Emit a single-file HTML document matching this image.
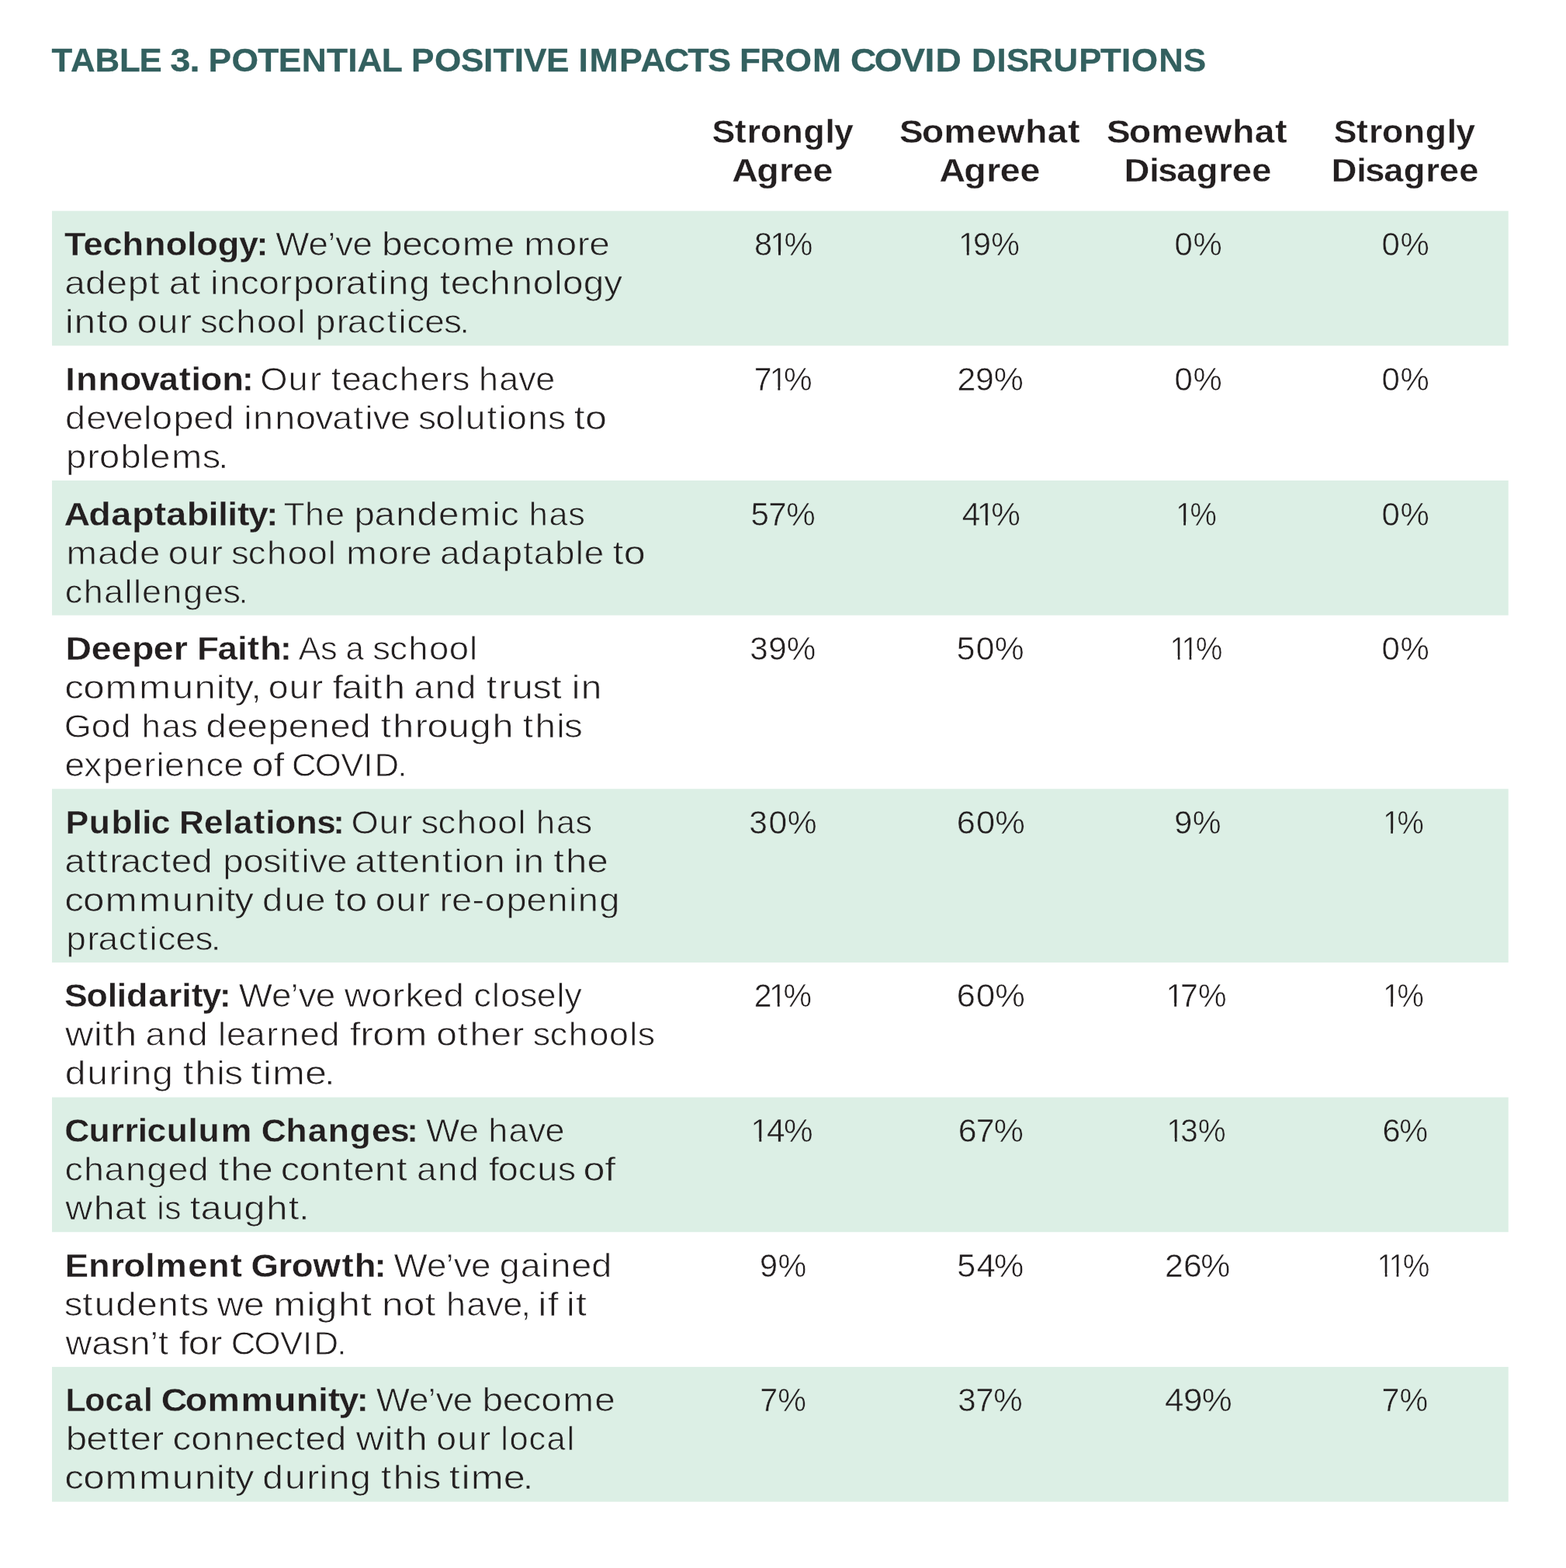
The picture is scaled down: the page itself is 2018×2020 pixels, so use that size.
<!DOCTYPE html>
<html lang="en">
<head>
<meta charset="utf-8">
<title>Table 3. Potential Positive Impacts from COVID Disruptions</title>
<style>
html,body{margin:0;padding:0;background:#fff}
svg{display:block}
text{font-family:"Liberation Sans",sans-serif;font-size:42px;fill:#231f20;font-kerning:none;font-variant-ligatures:none}
.band{fill:#dcefe5}
.ti{font-weight:700;fill:#33605f;stroke:#33605f;stroke-width:0.27px;}
.h{font-weight:700;stroke:#fff;stroke-width:0.3px;}
.b{font-weight:700;stroke:#fff;stroke-width:0.3px;}
.r{stroke:#fff;stroke-width:0.75px;}
.n{stroke:#fff;stroke-width:0.52px;}
.g .b{stroke:#dcefe5;stroke-width:0.3px;}
.g .r{stroke:#dcefe5;stroke-width:0.75px;}
.g .n{stroke:#dcefe5;stroke-width:0.52px;}
</style>
</head>
<body>
<svg width="2018" height="2020" viewBox="0 0 2018 2020">
<rect width="2018" height="2020" fill="#fff"/>
<rect class="band" x="67" y="271.7" width="1876.75" height="173.65"/>
<rect class="band" x="67" y="619" width="1876.75" height="173.65"/>
<rect class="band" x="67" y="1016.3" width="1876.75" height="223.65"/>
<rect class="band" x="67" y="1413.6" width="1876.75" height="173.65"/>
<rect class="band" x="67" y="1760.9" width="1876.75" height="173.75"/>
<g class="title">
<text class="ti" transform="translate(66.58 92.07) scale(1.0421 1)" x="0 23.32 53.55 83.88 108.41">TABLE</text> <text class="ti" transform="translate(219.21 92.07) scale(1.12 1)" x="0 22.52">3.</text> <text class="ti" transform="translate(268.48 92.07) scale(1.0569 1)" x="0 28.4 60.29 85.45 113.76 144.26 170.06 181.61 211.32">POTENTIAL</text> <text class="ti" transform="translate(530.06 92.07) scale(1.0535 1)" x="0 28.46 60.62 88.19 100.01 125.85 137.59 165.04">POSITIVE</text> <text class="ti" transform="translate(745.55 92.07) scale(1.0631 1)" x="0 13.07 49.4 75.15 103.81 132.38 156.7">IMPACTS</text> <text class="ti" transform="translate(953 92.07) scale(1.0574 1)" x="0 25.04 55.34 88.99">FROM</text> <text class="ti" transform="translate(1096.08 92.07) scale(1.1017 1)" x="0 27.86 59.11 86.68 99.29">COVID</text> <text class="ti" transform="translate(1251.89 92.07) scale(1.0432 1)" x="0 31.38 43.15 70.27 101.16 132.71 159.2 185.14 197.67 231.31 261.83">DISRUPTIONS</text>
</g>
<g class="thead">
<text class="h" transform="translate(917.6 183.9) scale(1.0619 1)" x="0 27.45 42.59 58.66 84.69 111.01 137.48 148.35">Strongly</text> <text class="h" transform="translate(943.33 233.9) scale(1.1085 1)" x="0 28.74 54.75 70.68 93.92">Agree</text>
<text class="h" transform="translate(1159.11 183.9) scale(1.097 1)" x="0 26.29 52.4 90.52 114.3 147.78 173.83 197.84">Somewhat</text> <text class="h" transform="translate(1210.51 233.9) scale(1.1085 1)" x="0 28.74 54.75 70.68 93.92">Agree</text>
<text class="h" transform="translate(1426.11 183.9) scale(1.097 1)" x="0 26.29 52.4 90.52 114.3 147.78 173.83 197.84">Somewhat</text> <text class="h" transform="translate(1448.8 233.9) scale(1.0775 1)" x="0 30.13 40.23 62.57 86.38 112.81 129.02 152.65">Disagree</text>
<text class="h" transform="translate(1718.79 183.9) scale(1.0619 1)" x="0 27.45 42.59 58.66 84.69 111.01 137.48 148.35">Strongly</text> <text class="h" transform="translate(1715.8 233.9) scale(1.0775 1)" x="0 30.13 40.23 62.57 86.38 112.81 129.02 152.65">Disagree</text>
</g>
<g class="row g">
<text class="b" transform="translate(82.9 329.41) scale(1.0731 1)" x="0 22.87 46.23 69.43 96.03 121.92 147.38 158.8 184.26 209.73 230.66">Technology:</text> <text class="r" transform="translate(355.3 329.41) scale(1.0896 1)" x="0 38.82 61.41 70.71 90.97">We’ve</text> <text class="r" transform="translate(491.89 329.41) scale(1.1396 1)" x="0 23.08 45.76 66.48 91.12 127.01">become</text> <text class="r" transform="translate(675.3 329.41) scale(1.1425 1)" x="0 36.05 59.88 73.5">more</text>
<text class="r" transform="translate(83.19 379.41) scale(1.1388 1)" x="0 23.48 47.61 71.66 95.73">adept</text> <text class="r" transform="translate(217.7 379.41) scale(1.1287 1)" x="0 24.1">at</text> <text class="r" transform="translate(271.06 379.41) scale(1.129 1)" x="0 10.5 34.42 55.3 79.31 94.72 118.15 142.16 154.81 178.92 192.35 202.86 227.19">incorporating</text> <text class="r" transform="translate(567.01 379.41) scale(1.1372 1)" x="0 12.11 34.85 56.53 81.44 105.38 129.19 138.99 162.4 185.77">technology</text>
<text class="r" transform="translate(83.79 429.41) scale(1.1847 1)" x="0 9.94 34.14 46.04">into</text> <text class="r" transform="translate(176.67 429.41) scale(1.1063 1)" x="0 24.32 49.54">our</text> <text class="r" transform="translate(258.02 429.41) scale(1.0822 1)" x="0 20.38 42.76 67.48 91.29 115.67">school</text> <text class="r" transform="translate(406.73 429.41) scale(1.0963 1)" x="0 24.61 37.52 61.2 83.66 97.36 107.11 128.14 150.72 169.17">practices.</text>
<text class="n" transform="translate(971.88 329.41) scale(0.9889 1)" x="0 20.6 39.17">81%</text><rect x="994.42" y="324.16" width="8.64" height="6.14" fill="#dcefe5"/><rect x="1005.99" y="324.16" width="8.32" height="6.14" fill="#dcefe5"/>
<text class="n" transform="translate(1235.07 329.41) scale(0.9834 1)" x="0 19.14 43">19%</text><rect x="1237.23" y="324.16" width="8.6" height="6.14" fill="#dcefe5"/><rect x="1248.73" y="324.16" width="8.18" height="6.14" fill="#dcefe5"/>
<text class="n" transform="translate(1513.45 329.41) scale(0.999 1)" x="0 24.07">0%</text>
<text class="n" transform="translate(1780.45 329.41) scale(0.999 1)" x="0 24.07">0%</text>
</g>
<g class="row">
<text class="b" transform="translate(84.31 503.01) scale(1.0787 1)" x="0 12.69 39.15 64.98 89.36 111.63 135.87 150.37 161.39 187.19 210.86">Innovation:</text> <text class="r" transform="translate(335.18 503.01) scale(1.0814 1)" x="0 33.62 59.12">Our</text> <text class="r" transform="translate(426.78 503.01) scale(1.0853 1)" x="0 12.54 35.09 58.87 81.16 105.57 129.75 143.72">teachers</text> <text class="r" transform="translate(617 503.01) scale(1.0708 1)" x="0 24.49 47.92 68.37">have</text>
<text class="r" transform="translate(83.93 553.01) scale(1.1148 1)" x="0 24.41 46.88 66.88 90.58 100.56 125.19 148.57 171.86">developed</text> <text class="r" transform="translate(314.29 553.01) scale(1.1133 1)" x="0 10.63 35.82 60.03 82.61 102.37 126.58 140.1 149.52 169.56">innovative</text> <text class="r" transform="translate(538.97 553.01) scale(1.0978 1)" x="0 20.29 44.46 55.42 80.59 94.23 104.03 128.62 152.26">solutions</text> <text class="r" transform="translate(739.71 553.01) scale(1.2 1)" x="0 11.96">to</text>
<text class="r" transform="translate(85.05 603.01) scale(1.121 1)" x="0 24.24 38.24 62.77 86.87 96.55 121.2 156.83 175">problems.</text>
<text class="n" transform="translate(971.64 503.01) scale(0.9801 1)" x="0 20.46 39.18">71%</text><rect x="993.84" y="498.16" width="8.57" height="6.14" fill="#fff"/><rect x="1005.31" y="498.16" width="8.24" height="6.14" fill="#fff"/>
<text class="n" transform="translate(1233.47 503.01) scale(1.0202 1)" x="0 23.03 46.25">29%</text>
<text class="n" transform="translate(1513.45 503.01) scale(0.999 1)" x="0 24.07">0%</text>
<text class="n" transform="translate(1780.45 503.01) scale(0.999 1)" x="0 24.07">0%</text>
</g>
<g class="row g">
<text class="b" transform="translate(82.38 676.61) scale(1.1122 1)" x="0 28.72 54.79 78.7 104.47 118.51 142.42 167.38 178.49 189.6 201.17 213.57 234.24">Adaptability:</text> <text class="r" transform="translate(365.56 676.61) scale(1.0637 1)" x="0 25.79 50.56">The</text> <text class="r" transform="translate(456.56 676.61) scale(1.1332 1)" x="0 22.99 47.28 71.51 95.73 120.24 156.86 166.27">pandemic</text> <text class="r" transform="translate(681.69 676.61) scale(1.03 1)" x="0 25.14 49.02">has</text>
<text class="r" transform="translate(85.39 726.61) scale(1.1299 1)" x="0 35.92 59.45 83.64">made</text> <text class="r" transform="translate(216.84 726.61) scale(1.1063 1)" x="0 24.27 49.41">our</text> <text class="r" transform="translate(297.89 726.61) scale(1.0822 1)" x="0 20.31 42.63 67.26 91.02 115.32">school</text> <text class="r" transform="translate(446.11 726.61) scale(1.1425 1)" x="0 36.03 59.82 73.44">more</text> <text class="r" transform="translate(566.9 726.61) scale(1.0942 1)" x="0 23.99 48.56 73.64 98.08 110.36 135.44 159.82 169.77">adaptable</text> <text class="r" transform="translate(789.43 726.61) scale(1.2 1)" x="0 11.95">to</text>
<text class="r" transform="translate(83.81 776.61) scale(1.0723 1)" x="0 22.42 46.84 71.42 82.32 92.48 117.08 142.1 167.14 189.9 208.41">challenges.</text>
<text class="n" transform="translate(967.46 676.61) scale(1.0031 1)" x="0 22.62 45.59">57%</text>
<text class="n" transform="translate(1239.84 676.61) scale(1.0077 1)" x="0 18.87 37.11">41%</text><rect x="1261.07" y="672.16" width="8.81" height="6.14" fill="#dcefe5"/><rect x="1272.86" y="672.16" width="8.48" height="6.14" fill="#dcefe5"/>
<text class="n" transform="translate(1515.18 676.61) scale(0.9192 1)" x="0 19.84">1%</text><rect x="1517.2" y="672.16" width="8.03" height="6.14" fill="#dcefe5"/><rect x="1527.95" y="672.16" width="7.73" height="6.14" fill="#dcefe5"/>
<text class="n" transform="translate(1780.45 676.61) scale(0.999 1)" x="0 24.07">0%</text>
</g>
<g class="row">
<text class="b" transform="translate(84.56 850.21) scale(1.1054 1)" x="0 30.12 53.43 77.26 102.51 125.98">Deeper</text> <text class="b" transform="translate(254.01 850.21) scale(1.0866 1)" x="0 24.44 47.79 59.5 74.53 98.15">Faith:</text> <text class="r" transform="translate(384.5 850.21) scale(1.032 1)" x="0 27.71">As</text> <text class="r" transform="translate(445.53 850.21) scale(1 1)" x="0">a</text> <text class="r" transform="translate(480.14 850.21) scale(1.0822 1)" x="0 20.34 42.67 67.33 91.12 115.44">school</text>
<text class="r" transform="translate(83.16 900.21) scale(1.175 1)" x="0 20.42 44.58 81.62 117.98 142.47 166.44 176.11 186.71 204.39">community,</text> <text class="r" transform="translate(345.87 900.21) scale(1.1063 1)" x="0 24.36 49.6">our</text> <text class="r" transform="translate(428.47 900.21) scale(1.1717 1)" x="0 9.97 33.33 43.02 56.54">faith</text> <text class="r" transform="translate(533.54 900.21) scale(1.0943 1)" x="0 24.88 49.63">and</text> <text class="r" transform="translate(626.7 900.21) scale(1.1569 1)" x="0 13.63 28.63 51.76 72.29">trust</text> <text class="r" transform="translate(736.78 900.21) scale(1.1375 1)" x="0 10.45">in</text>
<text class="r" transform="translate(82.81 950.21) scale(1.0703 1)" x="0 32.63 56.77">God</text> <text class="r" transform="translate(182.86 950.21) scale(1.03 1)" x="0 25.08 48.91">has</text> <text class="r" transform="translate(265.52 950.21) scale(1.1225 1)" x="0 24.31 47.1 71.34 94.62 118.58 142.46 165.68">deepened</text> <text class="r" transform="translate(490.62 950.21) scale(1.1574 1)" x="0 13.6 38.06 51.76 75.39 99.41 124.35">through</text> <text class="r" transform="translate(673.86 950.21) scale(1.1368 1)" x="0 13.82 38.12 46.85">this</text>
<text class="r" transform="translate(83.6 1000.21) scale(1.0934 1)" x="0 22.66 45.14 68.84 93.01 107.83 117.53 141.96 166.37 187.45">experience</text> <text class="r" transform="translate(324.46 1000.21) scale(1.2 1)" x="0 23.3">of</text> <text class="r" transform="translate(375.98 1000.21) scale(1.0417 1)" x="0 28.61 60.72 88.59 102.32 130.71">COVID.</text>
<text class="n" transform="translate(966.34 850.21) scale(1.0058 1)" x="0 23.7 47.17">39%</text>
<text class="n" transform="translate(1232.76 850.21) scale(1.0148 1)" x="0 24.57 48.39">50%</text>
<text class="n" transform="translate(1507.6 850.21) scale(0.9281 1)" x="0 15.98 35.64">11%</text><rect x="1509.64" y="845.16" width="8.11" height="6.14" fill="#fff"/><rect x="1520.5" y="845.16" width="7.81" height="6.14" fill="#fff"/><rect x="1524.48" y="845.16" width="8.11" height="6.14" fill="#fff"/><rect x="1535.33" y="845.16" width="7.81" height="6.14" fill="#fff"/>
<text class="n" transform="translate(1780.45 850.21) scale(0.999 1)" x="0 24.07">0%</text>
</g>
<g class="row g">
<text class="b" transform="translate(84.43 1073.81) scale(1.0612 1)" x="0 28.7 55.6 81.38 92.82 103.99">Public</text> <text class="b" transform="translate(231.08 1073.81) scale(1.0512 1)" x="0 30.48 54.39 66.53 91.09 105.82 117.14 143.34 168.58 188.57">Relations:</text> <text class="r" transform="translate(452.47 1073.81) scale(1.0814 1)" x="0 33.62 59.13">Our</text> <text class="r" transform="translate(542.61 1073.81) scale(1.0822 1)" x="0 20.34 42.67 67.33 91.12 115.45">school</text> <text class="r" transform="translate(691.04 1073.81) scale(1.03 1)" x="0 25.09 48.93">has</text>
<text class="r" transform="translate(83.18 1123.81) scale(1.1391 1)" x="0 23.98 37.18 50.93 63.5 86.64 108.67 120.76 143.81">attracted</text> <text class="r" transform="translate(287.16 1123.81) scale(1.1239 1)" x="0 23.49 46.07 66.47 76.42 89.9 99.25 119.21">positive</text> <text class="r" transform="translate(457.35 1123.81) scale(1.166 1)" x="0 23.73 36.75 48.59 72.04 96.41 109.56 118.77 142.49">attention</text> <text class="r" transform="translate(662.58 1123.81) scale(1.1375 1)" x="0 10.41">in</text> <text class="r" transform="translate(713.32 1123.81) scale(1.1716 1)" x="0 13.47 36.81">the</text>
<text class="r" transform="translate(83.15 1173.81) scale(1.1776 1)" x="0 20.34 44.43 81.37 117.64 142.06 165.96 175.58 186.11">community</text> <text class="r" transform="translate(337.94 1173.81) scale(1.1257 1)" x="0 25.28 49.25">due</text> <text class="r" transform="translate(430.77 1173.81) scale(1.2 1)" x="0 11.99">to</text> <text class="r" transform="translate(483.68 1173.81) scale(1.1063 1)" x="0 24.31 49.5">our</text> <text class="r" transform="translate(566.39 1173.81) scale(1.1217 1)" x="0 13.84 37.53 52.1 76.68 99.99 123.99 148.45 159.03 183.44">re-opening</text>
<text class="r" transform="translate(85.23 1223.81) scale(1.0963 1)" x="0 24.73 37.76 61.56 84.13 97.95 107.81 128.97 151.68 170.24">practices.</text>
<text class="n" transform="translate(965.18 1073.81) scale(1.0148 1)" x="0 24.92 48.74">30%</text>
<text class="n" transform="translate(1232.87 1073.81) scale(1.034 1)" x="0 24.25 47.75">60%</text>
<text class="n" transform="translate(1513.28 1073.81) scale(0.9865 1)" x="0 23.79">9%</text>
<text class="n" transform="translate(1782.18 1073.81) scale(0.9192 1)" x="0 19.84">1%</text><rect x="1784.2" y="1069.16" width="8.03" height="6.14" fill="#dcefe5"/><rect x="1794.95" y="1069.16" width="7.73" height="6.14" fill="#dcefe5"/>
</g>
<g class="row">
<text class="b" transform="translate(82.99 1297.41) scale(1.0629 1)" x="0 26.77 52.37 63.81 75.23 101.94 126.08 142.3 154.2 166.95 187.97">Solidarity:</text> <text class="r" transform="translate(307.63 1297.41) scale(1.0896 1)" x="0 38.85 61.45 70.75 91.04">We’ve</text> <text class="r" transform="translate(443.87 1297.41) scale(1.1338 1)" x="0 30.4 54.34 69.36 89.51 112.61">worked</text> <text class="r" transform="translate(610.45 1297.41) scale(1.0651 1)" x="0 22.13 32.64 55.85 76.31 100.55 109.83">closely</text>
<text class="r" transform="translate(83.94 1347.41) scale(1.2 1)" x="0 30.74 40.31 53.59">with</text> <text class="r" transform="translate(187.55 1347.41) scale(1.0943 1)" x="0 24.89 49.66">and</text> <text class="r" transform="translate(280.99 1347.41) scale(1.0757 1)" x="0 10.26 33.02 57.9 73.66 98.27 122.15">learned</text> <text class="r" transform="translate(450.77 1347.41) scale(1.1901 1)" x="0 11.29 24.81 48.76">from</text> <text class="r" transform="translate(562.31 1347.41) scale(1.1431 1)" x="0 23.88 37.72 61.46 85.08">other</text> <text class="r" transform="translate(686.69 1347.41) scale(1.0659 1)" x="0 20.6 43.26 68.24 92.33 116.91 126.68">schools</text>
<text class="r" transform="translate(83.75 1397.41) scale(1.1435 1)" x="0 24.98 49.67 64.07 74.37 98.46">during</text> <text class="r" transform="translate(235.92 1397.41) scale(1.1368 1)" x="0 13.82 38.12 46.85">this</text> <text class="r" transform="translate(323.32 1397.41) scale(1.2 1)" x="0 12.92 23.11 58.12 78.68">time.</text>
<text class="n" transform="translate(971.74 1297.41) scale(0.9779 1)" x="0 19.82 38.57">21%</text><rect x="993.27" y="1292.16" width="8.55" height="6.14" fill="#fff"/><rect x="1004.71" y="1292.16" width="8.23" height="6.14" fill="#fff"/>
<text class="n" transform="translate(1232.87 1297.41) scale(1.034 1)" x="0 24.25 47.75">60%</text>
<text class="n" transform="translate(1502.51 1297.41) scale(0.9801 1)" x="0 19 42.35">17%</text><rect x="1504.66" y="1292.16" width="8.57" height="6.14" fill="#fff"/><rect x="1516.13" y="1292.16" width="8.24" height="6.14" fill="#fff"/>
<text class="n" transform="translate(1782.18 1297.41) scale(0.9192 1)" x="0 19.84">1%</text><rect x="1784.2" y="1292.16" width="8.03" height="6.14" fill="#fff"/><rect x="1794.95" y="1292.16" width="7.73" height="6.14" fill="#fff"/>
</g>
<g class="row g">
<text class="b" transform="translate(83.21 1471.01) scale(1.0593 1)" x="0 29.59 56.07 72.88 89.15 100.38 124.08 150.4 162.69 190.18">Curriculum</text> <text class="b" transform="translate(336.71 1471.01) scale(1.0588 1)" x="0 30.12 56.76 81.3 107.73 134.39 157.09 177.08">Changes:</text> <text class="r" transform="translate(549 1471.01) scale(1.0943 1)" x="0 38.81">We</text> <text class="r" transform="translate(629.25 1471.01) scale(1.0708 1)" x="0 24.54 48.02 68.53">have</text>
<text class="r" transform="translate(83.55 1521.01) scale(1.1132 1)" x="0 21.95 45.88 70.43 94.94 119.45 142.79">changed</text> <text class="r" transform="translate(281.46 1521.01) scale(1.1716 1)" x="0 13.46 36.79">the</text> <text class="r" transform="translate(361.75 1521.01) scale(1.1646 1)" x="0 20.47 44.21 68.56 80.41 103.85 128.22">content</text> <text class="r" transform="translate(536.96 1521.01) scale(1.0943 1)" x="0 24.82 49.52">and</text> <text class="r" transform="translate(629.92 1521.01) scale(1.1147 1)" x="0 10.65 33.9 56.04 79.6">focus</text> <text class="r" transform="translate(751.47 1521.01) scale(1.2 1)" x="0 23.25">of</text>
<text class="r" transform="translate(84.31 1571.01) scale(1.1504 1)" x="0 31.63 55.18 79.1">what</text> <text class="r" transform="translate(202.19 1571.01) scale(1.012 1)" x="0 9.91">is</text> <text class="r" transform="translate(244.8 1571.01) scale(1.1689 1)" x="0 11.75 35.42 59.39 84.23 108.66 120.05">taught.</text>
<text class="n" transform="translate(967.27 1471.01) scale(1.0077 1)" x="0 20.58 42.36">14%</text><rect x="969.48" y="1466.16" width="8.81" height="6.14" fill="#dcefe5"/><rect x="981.27" y="1466.16" width="8.48" height="6.14" fill="#dcefe5"/>
<text class="n" transform="translate(1234.63 1471.01) scale(1.0224 1)" x="0 22.57 45.23">67%</text>
<text class="n" transform="translate(1503.36 1471.01) scale(0.962 1)" x="0 18.54 42.03">13%</text><rect x="1505.47" y="1466.16" width="8.41" height="6.14" fill="#dcefe5"/><rect x="1516.72" y="1466.16" width="6.83" height="6.14" fill="#dcefe5"/>
<text class="n" transform="translate(1781.4 1471.01) scale(0.9869 1)" x="0 22.21">6%</text>
</g>
<g class="row">
<text class="b" transform="translate(83.7 1644.61) scale(1.0785 1)" x="0 28 54.25 70.23 95.68 108.42 146.92 170.99 197.56">Enrolment</text> <text class="b" transform="translate(323.56 1644.61) scale(1.0859 1)" x="0 32.09 48 73.6 107.62 122.7 146.37">Growth:</text> <text class="r" transform="translate(507.61 1644.61) scale(1.0896 1)" x="0 38.88 61.51 70.85 91.17">We’ve</text> <text class="r" transform="translate(643.64 1644.61) scale(1.1138 1)" x="0 24.43 48.34 59.03 83.07 106.43">gained</text>
<text class="r" transform="translate(82.78 1694.61) scale(1.1288 1)" x="0 20.7 34.54 58.87 83.12 107.02 131.75 144.1">students</text> <text class="r" transform="translate(279.74 1694.61) scale(1.141 1)" x="0 30.12">we</text> <text class="r" transform="translate(352.26 1694.61) scale(1.2 1)" x="0 35.88 45.22 69.77 93.99">might</text> <text class="r" transform="translate(492.04 1694.61) scale(1.1854 1)" x="0 23.32 46.75">not</text> <text class="r" transform="translate(575.06 1694.61) scale(1.0708 1)" x="0 24.52 47.96 68.45 90.13">have,</text> <text class="r" transform="translate(693.27 1694.61) scale(1.2 1)" x="0 10.31">if</text> <text class="r" transform="translate(729.64 1694.61) scale(1.2 1)" x="0 10.29">it</text>
<text class="r" transform="translate(84.58 1744.61) scale(1.1144 1)" x="0 30.27 53.19 74.41 97.79 107.27">wasn’t</text> <text class="r" transform="translate(230.54 1744.61) scale(1.1626 1)" x="0 10.41 34.13">for</text> <text class="r" transform="translate(297.66 1744.61) scale(1.0417 1)" x="0 28.67 60.84 88.77 102.56 131.01">COVID.</text>
<text class="n" transform="translate(979.09 1644.61) scale(0.9865 1)" x="0 23.79">9%</text>
<text class="n" transform="translate(1233.32 1644.61) scale(1.0264 1)" x="0 24.83 46.36">54%</text>
<text class="n" transform="translate(1500.93 1644.61) scale(1.0205 1)" x="0 23.63 45.33">26%</text>
<text class="n" transform="translate(1774.6 1644.61) scale(0.9281 1)" x="0 15.98 35.64">11%</text><rect x="1776.64" y="1640.16" width="8.11" height="6.14" fill="#fff"/><rect x="1787.5" y="1640.16" width="7.81" height="6.14" fill="#fff"/><rect x="1791.48" y="1640.16" width="8.11" height="6.14" fill="#fff"/><rect x="1802.33" y="1640.16" width="7.81" height="6.14" fill="#fff"/>
</g>
<g class="row g">
<text class="b" transform="translate(84.46 1818.21) scale(1.0158 1)" x="0 24.39 50.32 74.34 98.88">Local</text> <text class="b" transform="translate(207.65 1818.21) scale(1.1092 1)" x="0 28.08 54.02 92.81 131.03 157.03 182.43 193.98 206.37 227.01">Community:</text> <text class="r" transform="translate(484.68 1818.21) scale(1.0896 1)" x="0 38.85 61.45 70.75 91.04">We’ve</text> <text class="r" transform="translate(621.38 1818.21) scale(1.1396 1)" x="0 23.1 45.79 66.52 91.19 127.09">become</text>
<text class="r" transform="translate(84.67 1868.21) scale(1.1717 1)" x="0 22.77 46.06 59.06 70.87 94.14">better</text> <text class="r" transform="translate(222.57 1868.21) scale(1.1333 1)" x="0 20.83 44.98 69.93 93.7 116.5 138.6 150.75 173.88">connected</text> <text class="r" transform="translate(458.65 1868.21) scale(1.2 1)" x="0 30.7 40.22 53.46">with</text> <text class="r" transform="translate(562.27 1868.21) scale(1.1063 1)" x="0 24.32 49.53">our</text> <text class="r" transform="translate(645.21 1868.21) scale(1.037 1)" x="0 10.86 35.11 57.08 82.17">local</text>
<text class="r" transform="translate(83.15 1918.21) scale(1.1776 1)" x="0 20.38 44.5 81.48 117.79 142.24 166.18 175.83 186.4">community</text> <text class="r" transform="translate(338.25 1918.21) scale(1.1435 1)" x="0 25.06 49.82 64.29 74.67 98.83">during</text> <text class="r" transform="translate(491.01 1918.21) scale(1.1368 1)" x="0 13.87 38.26 47.06">this</text> <text class="r" transform="translate(578.82 1918.21) scale(1.2 1)" x="0 12.98 23.24 58.32 78.94">time.</text>
<text class="n" transform="translate(979.35 1818.21) scale(0.9826 1)" x="0 23.3">7%</text>
<text class="n" transform="translate(1234.22 1818.21) scale(1.0031 1)" x="0 23.02 45.98">37%</text>
<text class="n" transform="translate(1501.09 1818.21) scale(1.0452 1)" x="0 22.78 45.61">49%</text>
<text class="n" transform="translate(1780.54 1818.21) scale(0.9826 1)" x="0 23.3">7%</text>
</g>
</svg>
</body>
</html>
